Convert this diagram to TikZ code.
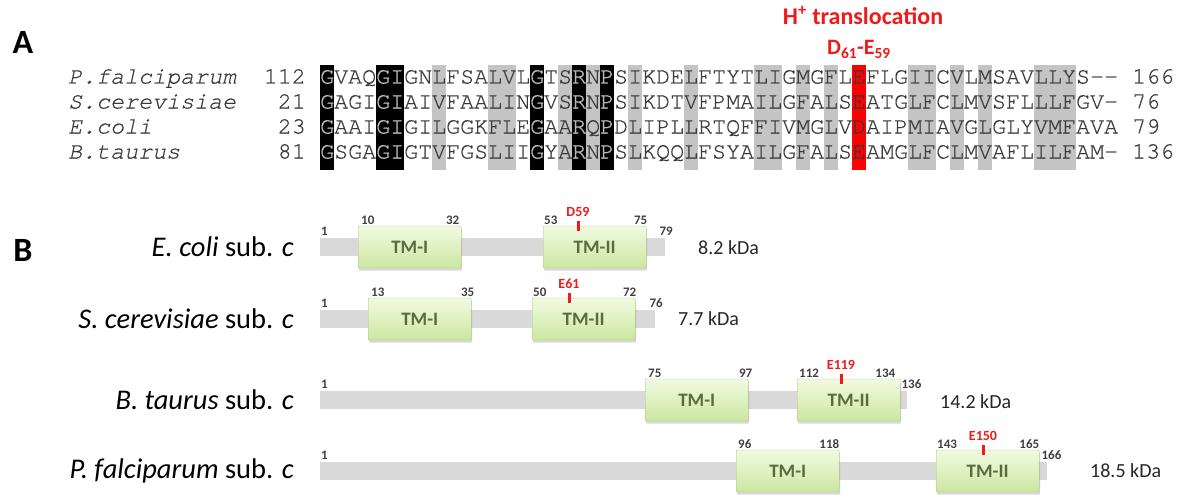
\documentclass[tikz,border=0pt]{standalone}
\usepackage{fontspec}
\setmainfont{Carlito}
\newfontfamily\alnfont[Extension=.otf, UprightFont=*-regular, ItalicFont=*-italic, FakeBold=0.6]{texgyrecursor}
\usetikzlibrary{positioning, shadows}

\definecolor{alntext}{HTML}{3A3A3A}
\definecolor{inblack}{HTML}{B8B8B8}
\definecolor{consgrey}{HTML}{C4C4C4}
\definecolor{hred}{HTML}{F01A1A}
\definecolor{bargrey}{HTML}{D9D9D9}
\definecolor{tmtop}{HTML}{F2FAE2}
\definecolor{tmbot}{HTML}{CBE7A0}
\definecolor{tmedge}{HTML}{A6C46F}
\definecolor{tmtext}{HTML}{5A6B40}
\definecolor{numgrey}{HTML}{404040}

% aligned sequences
\newcommand{\pfseq}{GVAQGIGNLFSALVLGTSRNPSIKDELFTYTLIGMGFLEFLGIICVLMSAVLLYS-\kern0pt-}
\newcommand{\scseq}{GAGIGIAIVFAALINGVSRNPSIKDTVFPMAILGFALSEATGLFCLMVSFLLLFGV-}
\newcommand{\ecseq}{GAAIGIGILGGKFLEGAARQPDLIPLLRTQFFIVMGLVDAIPMIAVGLGLYVMFAVA}
\newcommand{\btseq}{GSGAGIGTVFGSLIIGYARNPSLKQQLFSYAILGFALSEAMGLFCLMVAFLILFAM-}

\tikzset{
  alnrow/.style={font=\alnfont\fontsize{23.33}{25}\selectfont, text=alntext, inner sep=0pt, anchor=base west},
  alnnum/.style={font=\alnfont\fontsize{23.33}{25}\selectfont, text=alntext, inner sep=0pt, anchor=base east},
  panel/.style={font=\bfseries\fontsize{34}{34}\selectfont, inner sep=0pt},
  bar/.style={fill=bargrey, minimum height=18pt, inner sep=0pt, anchor=west},
  tmbox/.style={draw=tmedge, top color=tmtop, bottom color=tmbot, rounded corners=1pt,
    minimum width=103pt, minimum height=42pt, inner sep=0pt, anchor=west,
    font=\bfseries\fontsize{19}{19}\selectfont, text=tmtext,
    drop shadow={shadow xshift=1pt, shadow yshift=-2.5pt, opacity=0.3}},
  resnum/.style={font=\bfseries\fontsize{13}{13}\selectfont, text=numgrey, inner sep=0pt},
  marklabel/.style={font=\bfseries\fontsize{14}{14}\selectfont, text=hred, inner sep=0pt, anchor=south},
  marktick/.style={draw=hred, line width=3pt},
  species/.style={font=\fontsize{28.5}{28.5}\selectfont, inner sep=0pt, anchor=east},
  mass/.style={font=\fontsize{20}{20}\selectfont, text=black!85, inner sep=0pt, anchor=west}
}

\begin{document}
\begin{tikzpicture}[x=1pt, y=-1pt]
\useasboundingbox (0,0) rectangle (1181,495);

% ---------- A ----------
\node[panel] (labA) at (23,42) {A};
\node[font=\bfseries\fontsize{24}{24}\selectfont, text=hred, anchor=base, inner sep=0pt] (htrans) at (863,25) {H\textsuperscript{+} translocation};
\node[font=\bfseries\fontsize{22}{22}\selectfont, text=hred, anchor=base, inner sep=0pt] (dpair) at (859,55) {D\textsubscript{61}-E\textsubscript{59}};

% conserved columns
\fill[black] (320,65) rectangle (334,170);
\fill[black] (376,65) rectangle (404,170);
\fill[black] (530,65) rectangle (544,170);
\fill[black] (572,65) rectangle (586,170);
\fill[black] (600,65) rectangle (614,170);
\fill[consgrey] (432,65) rectangle (446,170);
\fill[consgrey] (488,65) rectangle (516,170);
\fill[consgrey] (558,65) rectangle (572,170);
\fill[consgrey] (586,65) rectangle (600,170);
\fill[consgrey] (628,65) rectangle (642,170);
\fill[consgrey] (684,65) rectangle (698,170);
\fill[consgrey] (754,65) rectangle (782,170);
\fill[consgrey] (796,65) rectangle (810,170);
\fill[consgrey] (824,65) rectangle (838,170);
\fill[consgrey] (908,65) rectangle (936,170);
\fill[consgrey] (950,65) rectangle (964,170);
\fill[consgrey] (978,65) rectangle (992,170);
\fill[consgrey] (1034,65) rectangle (1076,170);
% proton site
\fill[red] (852,65) rectangle (866,170);

% P. falciparum
\node[alnrow] (pfname) at (68,83.5) {\itshape P.falciparum};
\node[alnnum] (pfstart) at (306,83.5) {112};
\node[alnrow] (pfseq) at (320,83.5) {\pfseq};
\node[alnrow] (pfend) at (1132,83.5) {166};
% S. cerevisiae
\node[alnrow] (scname) at (68,108.5) {\itshape S.cerevisiae};
\node[alnnum] (scstart) at (306,108.5) {21};
\node[alnrow] (scseq) at (320,108.5) {\scseq};
\node[alnrow] (scend) at (1132,108.5) {76};
% E. coli
\node[alnrow] (ecname) at (68,133.5) {\itshape E.coli};
\node[alnnum] (ecstart) at (306,133.5) {23};
\node[alnrow] (ecseq) at (320,133.5) {\ecseq};
\node[alnrow] (ecend) at (1132,133.5) {79};
% B. taurus
\node[alnrow] (btname) at (68,158.5) {\itshape B.taurus};
\node[alnnum] (btstart) at (306,158.5) {81};
\node[alnrow] (btseq) at (320,158.5) {\btseq};
\node[alnrow] (btend) at (1132,158.5) {136};

% letters inside the black columns
\begin{scope}
\clip (320,65) rectangle (334,170) (376,65) rectangle (404,170) (530,65) rectangle (544,170)
      (572,65) rectangle (586,170) (600,65) rectangle (614,170);
\node[alnrow, text=inblack] (pfseqb) at (320,83.5) {\pfseq};
\node[alnrow, text=inblack] (scseqb) at (320,108.5) {\scseq};
\node[alnrow, text=inblack] (ecseqb) at (320,133.5) {\ecseq};
\node[alnrow, text=inblack] (btseqb) at (320,158.5) {\btseq};
\end{scope}

% ---------- B ----------
\node[panel] (labB) at (23,250) {B};

% E. coli sub. c
\node[species] (ecsp) at (294,247) {\textit{E. coli} sub. \textit{c}};
\node[bar, minimum width=345pt] (ecbar) at (320,247) {};
\node[tmbox] (ectm1) at (358,247) {TM-I};
\node[tmbox] (ectm2) at (543,247) {TM-II};
\node[resnum, anchor=south west] (ecn1) at ([xshift=1pt,yshift=2pt]ecbar.north west) {1};
\node[resnum, anchor=south west] (ecn10) at ([xshift=3pt,yshift=1.5pt]ectm1.north west) {10};
\node[resnum, anchor=south east] (ecn32) at ([xshift=-2pt,yshift=1.5pt]ectm1.north east) {32};
\node[resnum, anchor=south west] (ecn53) at ([xshift=1pt,yshift=1.5pt]ectm2.north west) {53};
\node[resnum, anchor=south east] (ecn75) at ([xshift=1pt,yshift=1.5pt]ectm2.north east) {75};
\node[resnum, anchor=south west] (ecn79) at ([xshift=-6pt,yshift=2pt]ecbar.north east) {79};
\draw[marktick] (578,221) -- (578,231);
\node[marklabel] (ecmark) at (578,217) {D59};
\node[mass] (eckda) at (698,248) {8.2 kDa};

% S. cerevisiae sub. c
\node[species] (scsp) at (294,319) {\textit{S. cerevisiae} sub. \textit{c}};
\node[bar, minimum width=335pt] (scbar) at (320,319) {};
\node[tmbox] (sctm1) at (368,319) {TM-I};
\node[tmbox] (sctm2) at (532,319) {TM-II};
\node[resnum, anchor=south west] (scn1) at ([xshift=1pt,yshift=2pt]scbar.north west) {1};
\node[resnum, anchor=south west] (scn13) at ([xshift=3pt,yshift=1.5pt]sctm1.north west) {13};
\node[resnum, anchor=south east] (scn35) at ([xshift=3pt,yshift=1.5pt]sctm1.north east) {35};
\node[resnum, anchor=south west] (scn50) at ([xshift=1pt,yshift=1.5pt]sctm2.north west) {50};
\node[resnum, anchor=south east] (scn72) at ([xshift=1pt,yshift=1.5pt]sctm2.north east) {72};
\node[resnum, anchor=south west] (scn76) at ([xshift=-6pt,yshift=2pt]scbar.north east) {76};
\draw[marktick] (569,293) -- (569,303);
\node[marklabel] (scmark) at (569,289) {E61};
\node[mass] (sckda) at (678,319) {7.7 kDa};

% B. taurus sub. c
\node[species] (btsp) at (294,400) {\textit{B. taurus} sub. \textit{c}};
\node[bar, minimum width=587pt] (btbar) at (320,400) {};
\node[tmbox] (bttm1) at (645,400) {TM-I};
\node[tmbox] (bttm2) at (797,400) {TM-II};
\node[resnum, anchor=south west] (btn1) at ([xshift=1pt,yshift=2pt]btbar.north west) {1};
\node[resnum, anchor=south west] (btn75) at ([xshift=3pt,yshift=1.5pt]bttm1.north west) {75};
\node[resnum, anchor=south east] (btn97) at ([xshift=4pt,yshift=1.5pt]bttm1.north east) {97};
\node[resnum, anchor=south west] (btn112) at ([xshift=2pt,yshift=1.5pt]bttm2.north west) {112};
\node[resnum, anchor=south east] (btn134) at ([xshift=-5pt,yshift=1.5pt]bttm2.north east) {134};
\node[resnum, anchor=south west] (btn136) at ([xshift=-6pt,yshift=2pt]btbar.north east) {136};
\draw[marktick] (841,374) -- (841,384);
\node[marklabel] (btmark) at (841,370) {E119};
\node[mass] (btkda) at (940,402) {14.2 kDa};

% P. falciparum sub. c
\node[species] (pfsp) at (294,471) {\textit{P. falciparum} sub. \textit{c}};
\node[bar, minimum width=727pt] (pfbar) at (320,471) {};
\node[tmbox] (pftm1) at (736,471) {TM-I};
\node[tmbox] (pftm2) at (936,471) {TM-II};
\node[resnum, anchor=south west] (pfn1) at ([xshift=1pt,yshift=2pt]pfbar.north west) {1};
\node[resnum, anchor=south west] (pfn96) at ([xshift=2pt,yshift=1.5pt]pftm1.north west) {96};
\node[resnum, anchor=south east] (pfn118) at ([xshift=0pt,yshift=1.5pt]pftm1.north east) {118};
\node[resnum, anchor=south west] (pfn143) at ([xshift=1pt,yshift=1.5pt]pftm2.north west) {143};
\node[resnum, anchor=south east] (pfn165) at ([xshift=0pt,yshift=1.5pt]pftm2.north east) {165};
\node[resnum, anchor=south west] (pfn166) at ([xshift=-6pt,yshift=2pt]pfbar.north east) {166};
\draw[marktick] (983,445) -- (983,455);
\node[marklabel] (pfmark) at (983,441) {E150};
\node[mass] (pfkda) at (1090,471) {18.5 kDa};
\end{tikzpicture}
\end{document}
